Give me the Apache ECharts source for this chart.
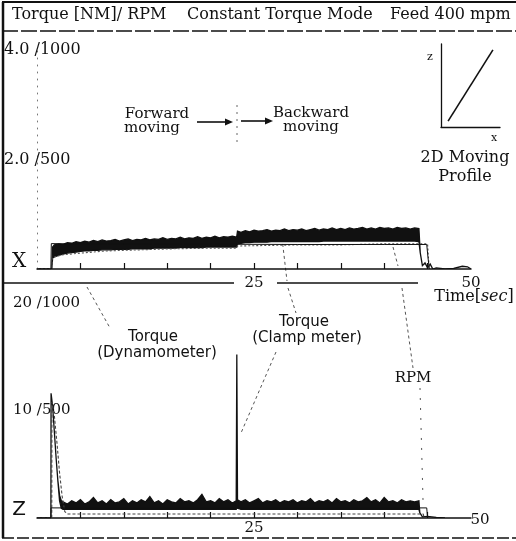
<!DOCTYPE html>
<html><head><meta charset="utf-8">
<script src="https://cdn.jsdelivr.net/npm/echarts@6/dist/echarts.min.js"></script>
<style>html,body{margin:0;padding:0;background:#fff}#c{width:516px;height:541px}</style>
</head><body><div id="c"></div>
<script>
// ---------------- data ----------------
// Time axis labels / ticks (seconds)
const timeTickValues = [5, 10, 15, 20, 25, 30, 35, 40, 45];
const timeLabelValues = [25, 50];
// Y tick labels  (torque / rpm)
const xPanelTicks = [0, 2, 4];
const xPanelTickLabels = ['', '2.0 /500', '4.0 /1000'];
const zPanelTicks = [0, 10, 20];
const zPanelTickLabels = ['', '10 /500', '20 /1000'];

// X axis movement – Torque (Clamp meter) noisy band (upper / lower envelope, NM)
const xClampTime = [0,1.7,1.8,
  2.0,2.5,3.0,3.5,4.0,4.5,5.0,5.5,6.0,6.5, 7.0,7.5,8.0,8.5,9.0,9.5,10.0,10.5,11.0,11.5,
  12.0,12.5,13.0,13.5,14.0,14.5,15.0,15.5,16.0,16.5, 17.0,17.5,18.0,18.5,19.0,19.5,20.0,20.5,21.0,21.5,
  22.0,22.5,23.0,
  23.1,23.5,24.0,24.5,25.0,25.5,26.0,26.5,27.0,27.5, 28.0,28.5,29.0,29.5,30.0,30.5,31.0,31.5,32.0,32.5,
  33.0,33.5,34.0,34.5,35.0,35.5,36.0,36.5,37.0,37.5, 38.0,38.5,39.0,39.5,40.0,40.5,41.0,41.5,42.0,42.5,
  43.0,43.5,44.0,
  44.15,44.4,44.7,45,45.3,45.6,46,47,48,49,49.6,50];
const xClampHigh = [0,0,0.40,
  0.44,0.46,0.45,0.48,0.47,0.50,0.48,0.51,0.49,0.52, 0.50,0.53,0.51,0.52,0.54,0.51,0.53,0.55,0.52,0.54,
  0.53,0.56,0.53,0.55,0.54,0.57,0.54,0.56,0.55,0.58, 0.55,0.57,0.56,0.59,0.56,0.58,0.57,0.60,0.57,0.59,
  0.58,0.60,0.58,
  0.69,0.67,0.70,0.68,0.71,0.69,0.70,0.72,0.69,0.71, 0.70,0.73,0.70,0.72,0.71,0.73,0.70,0.72,0.74,0.71,
  0.73,0.72,0.75,0.72,0.74,0.72,0.75,0.73,0.74,0.76, 0.73,0.75,0.73,0.76,0.74,0.75,0.73,0.76,0.74,0.75,
  0.73,0.75,0.74,
  0.30,0.06,0.11,0.02,0.09,0,0.02,0,0.01,0.05,0.04,0];
const xClampLow = [0,0,0.20,
  0.22,0.25,0.27,0.29,0.30,0.31,0.32,0.33,0.33,0.34, 0.34,0.35,0.35,0.35,0.36,0.36,0.36,0.36,0.37,0.37,
  0.37,0.37,0.37,0.38,0.38,0.38,0.38,0.38,0.38,0.39, 0.39,0.39,0.39,0.39,0.39,0.40,0.40,0.40,0.40,0.40,
  0.40,0.40,0.40,
  0.46,0.47,0.48,0.48,0.49,0.49,0.49,0.49,0.50,0.50, 0.50,0.50,0.50,0.50,0.50,0.50,0.50,0.50,0.50,0.50,
  0.51,0.51,0.51,0.51,0.51,0.51,0.51,0.51,0.51,0.51, 0.51,0.51,0.51,0.51,0.51,0.51,0.51,0.51,0.51,0.51,
  0.51,0.51,0.50,
  0.30,0.06,0.11,0.02,0.09,0,0.02,0,0.01,0.05,0.04,0];
// X – Torque (Dynamometer)
const xDynTime = [0,1.7,1.75,2,3,5,8,12,16,20,23,23.1,30,35,40,45,45.1,45.2];
const xDynValue = [0,0,0.20,0.22,0.26,0.29,0.33,0.35,0.37,0.38,0.38,0.42,0.44,0.44,0.46,0.46,0.2,0];
// X – RPM
const xRpmTime = [0,1.6,1.65,3,10,23,23.1,30,40,44.9,45.05,45.2];
const xRpmValue = [0,0,116,115,114,113,113,112,112,112,50,0];

// Z axis movement – Torque (Clamp meter)
const zClampTime = [0,1.6,1.62,1.8,2.0,2.2,2.4,2.6,2.8,
  3.0,3.5,4.0,4.5,5.0,5.5,6.0,6.5,7.0,7.5, 8.0,8.5,9.0,9.5,10.0,10.5,11.0,11.5,12.0,12.5,
  13.0,13.5,14.0,14.5,15.0,15.5,16.0,16.5,17.0,17.5, 18.0,18.5,19.0,19.5,20.0,20.5,21.0,21.5,22.0,22.5,
  22.95,23.02,23.1,
  23.5,24.0,24.5,25.0,25.5,26.0,26.5,27.0,27.5,28.0, 28.5,29.0,29.5,30.0,30.5,31.0,31.5,32.0,32.5,33.0,
  33.5,34.0,34.5,35.0,35.5,36.0,36.5,37.0,37.5,38.0, 38.5,39.0,39.5,40.0,40.5,41.0,41.5,42.0,42.5,43.0,
  43.5,44.0,
  44.1,44.4,45,46,47];
const zClampHigh = [0,0,11.6,10.4,8.0,5.6,3.5,2.1,1.6,
  1.5,1.3,1.6,1.4,1.7,1.3,1.5,1.9,1.4,1.6, 1.3,1.7,1.4,1.5,1.8,1.3,1.6,1.4,1.7,1.5,
  2.0,1.4,1.6,1.3,1.7,1.5,1.4,1.8,1.5,1.6, 1.4,1.7,2.2,1.5,1.6,1.4,1.8,1.5,1.7,1.4,
  1.6,15.2,1.7,
  1.5,1.7,1.4,1.6,1.8,1.4,1.6,1.5,1.7,1.4, 1.6,1.5,1.7,1.4,1.6,1.5,1.8,1.4,1.6,1.5,
  1.7,1.4,1.8,1.5,1.6,1.4,1.7,1.5,1.6,1.9, 1.5,1.7,1.4,1.9,1.5,1.6,1.4,1.7,1.5,1.6,
  1.5,1.6,
  0.5,0.1,0.15,0.05,0];
const zClampLow = [0,0,11.6,10.4,8.0,5.6,3.5,1.6,0.9,
  0.8,0.8,0.8,0.8,0.8,0.8,0.8,0.8,0.8,0.8, 0.8,0.8,0.8,0.8,0.8,0.8,0.8,0.8,0.8,0.8,
  0.8,0.8,0.8,0.8,0.8,0.8,0.8,0.8,0.8,0.8, 0.8,0.8,0.8,0.8,0.8,0.8,0.8,0.8,0.8,0.8,
  0.8,15.0,0.9,
  0.8,0.8,0.8,0.8,0.8,0.8,0.8,0.8,0.8,0.8, 0.8,0.8,0.8,0.8,0.8,0.8,0.8,0.8,0.8,0.8,
  0.8,0.8,0.8,0.8,0.8,0.8,0.8,0.8,0.8,0.8, 0.8,0.8,0.8,0.8,0.8,0.8,0.8,0.8,0.8,0.8,
  0.8,0.8,
  0.5,0.1,0.15,0.05,0];
// Z – Torque (Dynamometer)
const zDynTime = [0,1.7,1.72,2.0,2.3,2.6,2.9,3.2,3.5,44.5,44.6];
const zDynValue = [0,0,10.8,9.5,7.0,4.2,2.0,0.6,0.37,0.37,0];
// Z – RPM
const zRpmTime = [0,1.6,1.62,44.9,45.0];
const zRpmValue = [0,0,47,47,0];

// inset: 2D moving profile
const insetX = [0.12, 0.88];
const insetZ = [0.07, 0.93];

// ---------------- chart ----------------
const SERIF = 'DejaVu Serif', SANS = 'DejaVu Sans', INK = '#111';
const zip = (a, b) => a.map((v, i) => [v, b[i]]);
const zip3 = (a, b, c) => a.map((v, i) => [v, b[i], c[i]]);

function timeAxis(gridIndex, labelMargin, rich) {
  return {
    type: 'value', gridIndex, min: 0, max: 50,
    axisLine: { show: true, onZero: false, lineStyle: { color: INK, width: 1.5 } },
    axisTick: { show: true, inside: true, length: 6, customValues: timeTickValues, lineStyle: { color: INK, width: 1.2 } },
    splitLine: { show: false },
    axisLabel: {
      customValues: timeLabelValues, margin: labelMargin, verticalAlign: 'middle',
      color: INK, fontFamily: SERIF, fontSize: 15,
      formatter: v => (rich && v === 50) ? '{far|50}' : String(v),
      rich: rich || {}
    }
  };
}
function torqueAxis(gridIndex, max, ticks, labels, margin, size, lineShow) {
  return {
    type: 'value', gridIndex, min: 0, max, interval: max / 2,
    axisLine: { show: lineShow, lineStyle: { color: '#777', width: 1, type: [1, 6] } },
    axisTick: { show: false }, splitLine: { show: false },
    axisLabel: {
      align: 'left', margin, color: INK, fontFamily: SERIF, fontSize: size,
      formatter: v => labels[ticks.indexOf(v)] || ''
    }
  };
}
function hiddenAxis(gridIndex, max) {
  return { type: 'value', gridIndex, min: 0, max, show: false, position: 'right' };
}

const lineBase = { type: 'line', showSymbol: false, symbol: 'none', animation: false, silent: true };

// band (noisy trace envelope) drawn as one polygon through the axis scales
function bandSeries(name, xi, yi, data) {
  return {
    type: 'custom', name, xAxisIndex: xi, yAxisIndex: yi, silent: true, animation: false,
    data, encode: { x: 0, y: [1, 2] }, clip: true, z: 2,
    renderItem: function (params, api) {
      if (params.dataIndexInside !== 0) return null;
      const n = params.dataInsideLength;
      const top = [], bot = [];
      for (let i = 0; i < n; i++) {
        const t = api.value(0, i);
        top.push(api.coord([t, api.value(1, i)]));
        bot.push(api.coord([t, api.value(2, i)]));
      }
      return { type: 'polygon', shape: { points: top.concat(bot.reverse()) },
        style: { fill: INK, stroke: INK, lineWidth: 1.3, lineJoin: 'miter' } };
    }
  };
}

const option = {
  animation: false,
  backgroundColor: '#fff',
  grid: [
    { left: 37, top: 50, width: 434, height: 219 },
    { left: 37, top: 303, width: 434, height: 215 },
    { left: 441, top: 44, width: 59, height: 83 }
  ],
  xAxis: [
    timeAxis(0, 14, null),
    timeAxis(1, 10, { far: { padding: [0, 0, 16, 18], fontFamily: SERIF, fontSize: 15, color: INK } }),
    { type: 'value', gridIndex: 2, min: 0, max: 1, axisLine: { onZero: false, lineStyle: { color: INK, width: 1.3 } },
      axisTick: { show: false }, axisLabel: { show: false }, splitLine: { show: false } }
  ],
  yAxis: [
    torqueAxis(0, 4, xPanelTicks, xPanelTickLabels, 33, 16, true),
    hiddenAxis(0, 1000),
    torqueAxis(1, 20, zPanelTicks, zPanelTickLabels, 24, 15, false),
    hiddenAxis(1, 1000),
    { type: 'value', gridIndex: 2, min: 0, max: 1, axisLine: { show: true, onZero: false, lineStyle: { color: INK, width: 1.3 } },
      axisTick: { show: false }, axisLabel: { show: false }, splitLine: { show: false } }
  ],
  series: [
    bandSeries('Torque (Clamp meter)', 0, 0, zip3(xClampTime, xClampHigh, xClampLow)),
    Object.assign({}, lineBase, { name: 'Torque (Dynamometer)', xAxisIndex: 0, yAxisIndex: 0, z: 3,
      data: zip(xDynTime, xDynValue), lineStyle: { color: '#555', width: 1.1, type: [2, 2] } }),
    Object.assign({}, lineBase, { name: 'RPM', xAxisIndex: 0, yAxisIndex: 1, z: 3,
      data: zip(xRpmTime, xRpmValue), lineStyle: { color: INK, width: 1 } }),

    bandSeries('Torque (Clamp meter) Z', 1, 2, zip3(zClampTime, zClampHigh, zClampLow)),
    Object.assign({}, lineBase, { name: 'Torque (Dynamometer) Z', xAxisIndex: 1, yAxisIndex: 2, z: 3,
      data: zip(zDynTime, zDynValue), lineStyle: { color: '#444', width: 1.1, type: [3, 2] } }),
    Object.assign({}, lineBase, { name: 'RPM Z', xAxisIndex: 1, yAxisIndex: 3, z: 3,
      data: zip(zRpmTime, zRpmValue), lineStyle: { color: INK, width: 1 } }),

    Object.assign({}, lineBase, { name: 'profile', xAxisIndex: 2, yAxisIndex: 4,
      data: zip(insetX, insetZ), lineStyle: { color: INK, width: 1.6 } })
  ],
  graphic: { elements: buildGraphics() }
};

function L(x1, y1, x2, y2, w, dash, color) {
  return { type: 'line', silent: true, shape: { x1, y1, x2, y2 },
    style: { stroke: color || INK, lineWidth: w || 1, lineDash: dash || null } };
}
function T(x, y, text, size, family, align, extra) {
  return { type: 'text', x, y, silent: true,
    style: Object.assign({ text, fontSize: size, fontFamily: family, fill: INK,
      align: align || 'center', verticalAlign: 'middle' }, extra || {}) };
}
function arrow(x1, x2, y) {
  return [L(x1, y, x2 - 6, y, 1.6),
    { type: 'polygon', silent: true, shape: { points: [[x2, y], [x2 - 8, y - 3.5], [x2 - 8, y + 3.5]] }, style: { fill: INK } }];
}
function buildGraphics() {
  const g = [];
  // frame
  g.push(L(2, 2, 516, 2, 2));
  g.push(L(3, 2, 3, 538, 2.5));
  g.push(L(2, 31, 516, 31, 1.3, [16, 3]));
  g.push(L(2, 538, 516, 538, 1.5, [12, 3]));
  // separator between panels
  g.push(L(2, 283, 234, 283, 1.4));
  g.push(L(277, 283, 418, 283, 1.4));
  // header
  g.push(T(12, 15, 'Torque [NM]/ RPM', 16, SERIF, 'left'));
  g.push(T(187, 15, 'Constant Torque Mode', 16, SERIF, 'left'));
  g.push(T(390, 15, 'Feed 400 mpm', 16, SERIF, 'left'));
  // panel letters
  g.push(T(19, 262, 'X', 20, SERIF));
  g.push(T(19, 510, 'Z', 20, SANS));
  // movement annotations
  g.push(T(157, 114, 'Forward', 15, SERIF));
  g.push(T(152, 128, 'moving', 15, SERIF));
  g.push(T(311, 113, 'Backward', 15, SERIF));
  g.push(T(311, 127, 'moving', 15, SERIF));
  g.push(...arrow(197, 233, 122));
  g.push(...arrow(241, 273, 121));
  g.push(L(237, 105, 237, 142, 1, [2, 5], '#666'));
  // inset
  g.push(T(430, 57, 'z', 11, SERIF));
  g.push(T(494, 138, 'x', 11, SERIF));
  g.push(T(465, 158, '2D Moving', 16, SERIF));
  g.push(T(465, 177, 'Profile', 16, SERIF));
  // time label
  g.push(T(474, 297, 'Time[{i|sec}]', 16, SERIF, 'center',
    { rich: { i: { fontStyle: 'italic', fontSize: 16, fontFamily: SERIF, fill: INK } } }));
  // series labels
  g.push(T(153, 337, 'Torque', 15, SANS));
  g.push(T(157, 353, '(Dynamometer)', 15, SANS));
  g.push(T(304, 322, 'Torque', 15, SANS));
  g.push(T(307, 338, '(Clamp meter)', 15, SANS));
  g.push(T(413, 378, 'RPM', 15, SERIF));
  // leader lines
  const d = [3, 3], c = '#555';
  g.push(L(87, 287, 110, 328, 1, d, c));
  g.push(L(282, 238, 287, 281, 1, d, c));
  g.push(L(288, 288, 296, 313, 1, d, c));
  g.push(L(276, 352, 241, 433, 1, d, c));
  g.push(L(393, 247, 398, 266, 1, d, c));
  g.push(L(402, 288, 413, 368, 1, d, c));
  g.push(L(420, 388, 423, 500, 1, [2, 8], c));
  return g;
}

const chart = echarts.init(document.getElementById('c'), null, { renderer: 'canvas' });
chart.setOption(option);
</script>
</body></html>
